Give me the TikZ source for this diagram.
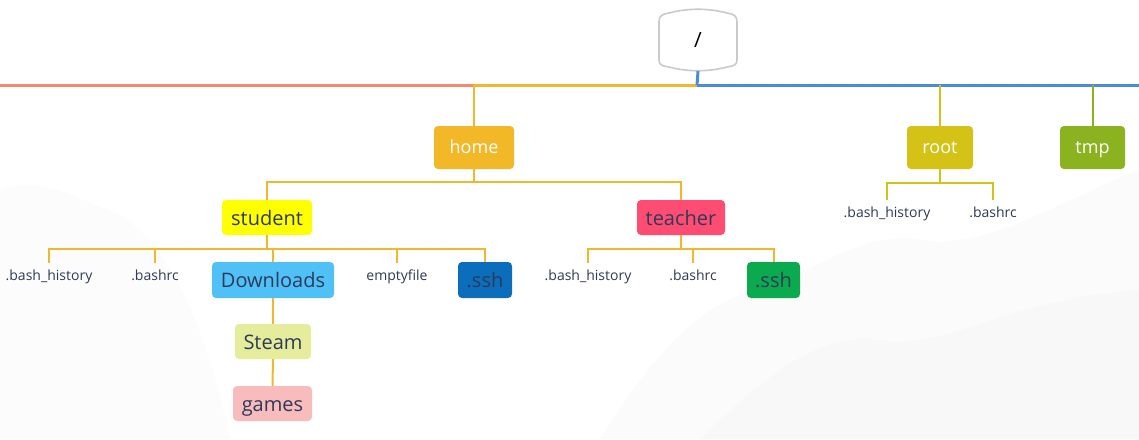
\documentclass[tikz,border=0pt]{standalone}
\usepackage{fontspec}
\setmainfont{Open Sans}
\definecolor{busred}{HTML}{F5896B}
\definecolor{busyel}{HTML}{F2B82D}
\definecolor{busblue}{HTML}{4C8BD9}
\definecolor{rootcol}{HTML}{D5C217}
\definecolor{tmpcol}{HTML}{8AB31F}
\definecolor{homecol}{HTML}{F2B828}
\definecolor{studcol}{HTML}{FFFF00}
\definecolor{teachcol}{HTML}{FF4C73}
\definecolor{dlcol}{HTML}{4FC1F6}
\definecolor{sshblue}{HTML}{0A6EBD}
\definecolor{sshgreen}{HTML}{0BAA4F}
\definecolor{steamcol}{HTML}{E5EC9C}
\definecolor{gamescol}{HTML}{F8BCBC}
\definecolor{darktext}{HTML}{2D3A5A}
\definecolor{rootline}{HTML}{C8CACC}
\tikzset{
  box/.style={rounded corners=4pt, inner sep=0pt, align=center},
  wbox/.style={box, text=white, font=\fontsize{18}{21}\selectfont, minimum height=43pt, text height=15pt, text depth=3pt},
  dbox/.style={box, text=darktext, font=\fontsize{20}{23}\selectfont, minimum height=35pt, text height=17pt, text depth=2pt},
  lbl/.style={inner sep=0pt, minimum height=26pt, text=darktext, font=\fontsize{14}{16}\selectfont, text height=11.5pt, text depth=2.5pt},
  bus/.style={line width=3pt},
  br/.style={line width=2pt},
}
\begin{document}
\begin{tikzpicture}[x=1pt,y=1pt]
\useasboundingbox (0,0) rectangle (1139,-439);
\fill[white] (0,0) rectangle (1139,-439);
% faint background clouds
\fill[gray!4, opacity=0.5] (0,-190) .. controls (40,-175) and (80,-200) .. (120,-215) .. controls (160,-240) and (200,-300) .. (230,-439) -- (0,-439) -- cycle;
\fill[gray!5, opacity=0.5] (600,-439) .. controls (650,-360) and (700,-300) .. (760,-290) .. controls (820,-270) and (860,-230) .. (920,-240) .. controls (990,-250) and (1060,-200) .. (1139,-170) -- (1139,-439) -- cycle;
\fill[gray!6, opacity=0.5] (700,-439) .. controls (760,-380) and (820,-330) .. (880,-340) .. controls (950,-350) and (1000,-300) .. (1139,-290) -- (1139,-439) -- cycle;

% root node "/"
\node[inner sep=0pt, minimum width=78pt, minimum height=62pt] (rootn) at (698,-40) {};
\draw[rootline, line width=1.6pt, fill=white]
  (659,-22) -- (659,-60)
  .. controls (659,-65) and (662,-66) .. (669,-67)
  .. controls (688,-72) and (708,-72) .. (727,-67)
  .. controls (734,-66) and (737,-65) .. (737,-60)
  -- (737,-22)
  .. controls (737,-16) and (734,-14) .. (727,-13)
  .. controls (708,-8) and (688,-8) .. (669,-13)
  .. controls (662,-14) and (659,-16) .. (659,-22) -- cycle;
\node[inner sep=0pt, font=\fontsize{21}{24}\selectfont, text=black] at (rootn) {/};

\coordinate (bus) at (697,-85);
\coordinate (busL) at (0,-85);
\coordinate (busR) at (1139,-85);

% level 1
\node[wbox, fill=homecol, minimum width=80pt] (home) at (474,-147.5) {home};
\node[wbox, fill=rootcol, minimum width=66pt] (root) at (940,-147.5) {root};
\node[wbox, fill=tmpcol, minimum width=65pt] (tmp) at (1092.5,-147.5) {tmp};

% bus lines
\draw[bus, busred] (busL) -- (home.north |- bus);
\draw[bus, busyel] (bus) -- (home.north |- bus);
\draw[bus, busblue] (bus) -- (busR);
\draw[bus, busblue] (rootn.south) -- (bus);
\draw[br, busyel] (home.north |- bus) -- (home.north);
\draw[br, rootcol] (root.north |- bus) -- (root.north);
\draw[br, tmpcol] (tmp.north |- bus) -- (tmp.north);

% level 2
\node[dbox, fill=studcol, minimum width=90pt] (student) at (267,-217.5) {student};
\node[dbox, fill=teachcol, minimum width=88pt] (teacher) at (681,-217.5) {teacher};
\draw[br, busyel] (home.south) -- ++(0,-13);
\draw[br, busyel] (student.north) -- ++(0,18) -| (teacher.north);

% root children
\coordinate (rj) at (940,-183);
\node[lbl] (rbh) at (887,-213) {.bash\_history};
\node[lbl] (rbrc) at (993,-213) {.bashrc};
\draw[br, rootcol] (root.south) -- (rj);
\draw[br, rootcol] (rbh.north) -- (rbh.north |- rj) -- (rbrc.north |- rj) -- (rbrc.north);

% student children
\coordinate (sj) at (267,-249);
\node[lbl] (sbh) at (49,-276) {.bash\_history};
\node[lbl] (sbrc) at (155,-276) {.bashrc};
\node[dbox, fill=dlcol, minimum width=122pt, minimum height=36pt] (dl) at (273,-280) {Downloads};
\node[lbl] (sempty) at (397,-276) {emptyfile};
\node[dbox, fill=sshblue, minimum width=54pt, minimum height=36pt] (sssh) at (485,-280) {.ssh};
\draw[br, busyel] (student.south) -- (sj);
\draw[br, busyel] (sbh.north) -- (sbh.north |- sj) -- (sssh.north |- sj) -- (sssh.north);
\draw[br, busyel] (sbrc.north) -- (sbrc.north |- sj);
\draw[br, busyel] (dl.north) -- (dl.north |- sj);
\draw[br, busyel] (sempty.north) -- (sempty.north |- sj);

% teacher children
\coordinate (tj) at (681,-249);
\node[lbl] (tbh) at (588,-276) {.bash\_history};
\node[lbl] (tbrc) at (693,-276) {.bashrc};
\node[dbox, fill=sshgreen, minimum width=53pt, minimum height=36pt] (tssh) at (773.5,-280) {.ssh};
\draw[br, busyel] (teacher.south) -- (tj);
\draw[br, busyel] (tbh.north) -- (tbh.north |- tj) -- (tssh.north |- tj) -- (tssh.north);
\draw[br, busyel] (tbrc.north) -- (tbrc.north |- tj);

% Downloads subtree
\node[dbox, fill=steamcol, minimum width=76pt] (steam) at (273,-341.5) {Steam};
\node[dbox, fill=gamescol, minimum width=79pt] (games) at (272.5,-403.5) {games};
\draw[br, busyel] (dl.south) -- (steam.north);
\draw[br, busyel] (steam.south) -- (games.north);
\end{tikzpicture}
\end{document}
